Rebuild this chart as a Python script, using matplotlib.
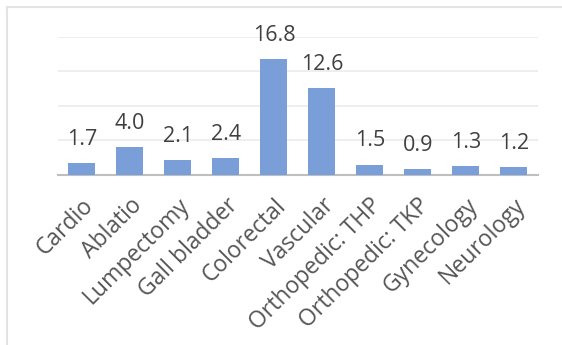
import matplotlib.pyplot as plt
from matplotlib.lines import Line2D

# Données du graphique
categories = ['Cardio', 'Ablatio', 'Lumpectomy', 'Gall bladder', 'Colorectal',
              'Vascular', 'Orthopedic: THP', 'Orthopedic: TKP', 'Gynecology', 'Neurology']
values = [1.7, 4.0, 2.1, 2.4, 16.8, 12.6, 1.5, 0.9, 1.3, 1.2]

bar_color = '#7A9FD8'
text_color = '#404040'

plt.rcParams['font.family'] = ['Open Sans', 'DejaVu Sans']

fig = plt.figure(figsize=(5.62, 3.45), dpi=100)
ax = fig.add_axes([0.103, 0.493, 0.854, 0.401])

x = range(len(categories))
bars = ax.bar(x, values, width=0.56, color=bar_color, zorder=3)

# Étiquettes de valeur au-dessus des barres
for xi, v in zip(x, values):
    ax.annotate(f'{v:.1f}', (xi, v), xytext=(0, 13), textcoords='offset points',
                ha='center', va='baseline', fontsize=15.5, color=text_color)

ax.set_xlim(-0.5, len(categories) - 0.5)
ax.set_ylim(0, 20)
ax.set_yticks([5, 10, 15, 20])
ax.yaxis.grid(True, color='#EBEBEB', linewidth=1.2, zorder=0)
ax.tick_params(axis='y', left=False, labelleft=False)
ax.tick_params(axis='x', bottom=False, pad=10)
ax.set_xticks(list(x))
ax.set_xticklabels(categories, rotation=45, ha='right', rotation_mode='anchor',
                   fontsize=16.5, color='#555555')

for side in ['top', 'right', 'left']:
    ax.spines[side].set_visible(False)
ax.spines['bottom'].set_color('#BFBFBF')
ax.spines['bottom'].set_linewidth(1.5)

# Bordure du cadre (haut et gauche)
fig.add_artist(Line2D([7 / 562, 7 / 562], [0, 1 - 7 / 345], color='#E3E3E3', linewidth=1.5))
fig.add_artist(Line2D([7 / 562, 1], [1 - 7 / 345, 1 - 7 / 345], color='#E3E3E3', linewidth=1.5))

fig.savefig('out.png', dpi=100)
